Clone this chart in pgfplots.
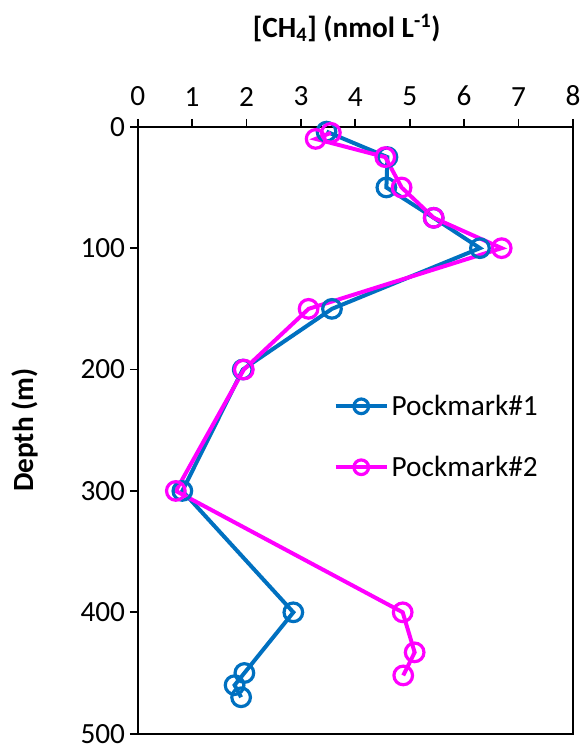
\documentclass[border=0pt]{standalone}
\usepackage{fontspec}
\setmainfont{Carlito}
\usepackage{pgfplots}
\pgfplotsset{compat=1.18}
\definecolor{pmblue}{RGB}{0,112,192}
\definecolor{pmmag}{RGB}{255,0,255}
\begin{document}
\begin{tikzpicture}
\begin{axis}[
  scale only axis, width=327pt, height=456pt,
  xmin=0, xmax=8, ymin=0, ymax=500, y dir=reverse,
  xtick={0,1,...,8}, ytick={0,100,...,500},
  xtick pos=top, xticklabel pos=top, ytick pos=left,
  tick align=outside, major tick length=6pt,
  axis line style={line width=1.5pt}, tick style={line width=1.3pt, black},
  every tick label/.append style={font=\fontsize{22}{26}\selectfont},
  xticklabel style={yshift=6pt},
  /pgf/number format/assume math mode=true,
  xlabel={\textbf{[CH\textsubscript{4}] (nmol L\textsuperscript{-1})}},
  ylabel={\textbf{Depth (m)}},
  label style={font=\fontsize{22}{26}\selectfont},
  xlabel style={at={(axis description cs:0.48,1)}, anchor=south, yshift=60pt},
  ylabel style={at={(axis description cs:-0.26,0.5)}, anchor=center},
  clip=false,
  legend style={draw=none, fill=none, at={(0.44,0.567)}, anchor=north west,
    font=\fontsize{22}{26}\selectfont, row sep=25pt},
  legend cell align=left,
  legend image code/.code={\draw[mark repeat=2,mark phase=2,mark size=5.5pt] plot coordinates {(0cm,0cm) (0.68cm,0cm) (1.36cm,0cm)};},
]
\addplot[color=pmblue, line width=3pt, mark=o, mark size=7pt, mark options={line width=2.4pt, solid}] coordinates {
 (3.47,4) (4.59,25) (4.57,50) (5.44,75) (6.29,100) (3.57,150) (1.93,200) (0.82,300) (2.86,400) (1.96,450) (1.78,460) (1.90,470)
};
\addlegendentry{Pockmark\#1}
\addplot[color=pmmag, line width=3pt, mark=o, mark size=7pt, mark options={line width=2.4pt, solid}] coordinates {
 (3.55,5) (3.27,10) (4.55,25) (4.85,50) (5.44,75) (6.69,100) (3.14,150) (1.95,200) (0.70,300) (4.87,400) (5.09,433) (4.88,452)
};
\addlegendentry{Pockmark\#2}
\coordinate (tl) at (axis cs:0,0);
\coordinate (br) at (axis cs:8,500);
\end{axis}
\pgfresetboundingbox
\path ([xshift=-103.5pt, yshift=95.25pt]tl) rectangle ([xshift=5.25pt, yshift=-10pt]br);
\end{tikzpicture}
\end{document}
